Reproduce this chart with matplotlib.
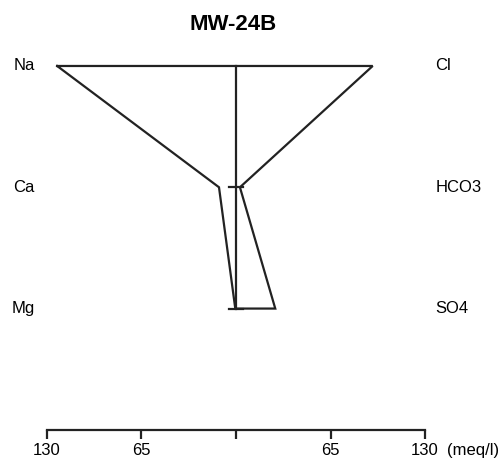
import numpy as np
import matplotlib
matplotlib.use("Agg")
import matplotlib.pyplot as plt

plt.rcParams['font.family'] = ['Liberation Sans', 'DejaVu Sans']

title = "MW-24B"
cations = ["Na", "Ca", "Mg"]
anions = ["Cl", "HCO3", "SO4"]
cation_vals = [123, 11.7, 0.5]   # meq/l
anion_vals = [94, 2.7, 27]       # meq/l
ticks = [-130, -65, 0, 65, 130]
tick_labels = ["130", "65", "", "65", "130"]

fig = plt.figure(figsize=(5.04, 4.62), dpi=100)
ax = fig.add_axes([0, 0, 1, 1])
ax.set_xlim(-162.3, 184.3)
ax.set_ylim(3.265, -0.544)

rows = np.arange(len(cations))
col = "#222222"

# stiff polygon
xs = [-v for v in cation_vals] + anion_vals[::-1]
ys = list(rows) + list(rows[::-1])
xs.append(xs[0])
ys.append(ys[0])
ax.plot(xs, ys, color=col, lw=1.6, solid_joinstyle="miter")

# center line + row ticks
ax.plot([0, 0], [rows[0], rows[-1]], color=col, lw=1.6)
for r in rows[1:]:
    ax.plot([-4.5, 4.5], [r, r], color=col, lw=1.6)

for r, c, a in zip(rows, cations, anions):
    ax.text(-138.3, r, c, ha="right", va="center", fontsize=12)
    ax.text(137, r, a, ha="left", va="center", fontsize=12)

ax.text(-2, -0.34, title, fontsize=16, fontweight="bold", ha="center", va="center")

for s in ["top", "left", "right"]:
    ax.spines[s].set_visible(False)
ax.spines["bottom"].set_position(("data", 3))
ax.spines["bottom"].set_bounds(-130, 130)
ax.spines["bottom"].set_linewidth(1.6)
ax.spines["bottom"].set_color(col)
ax.set_xticks(ticks)
ax.set_xticklabels(tick_labels, fontsize=12)
ax.tick_params(axis="x", direction="out", length=6.5, width=1.6, color=col, pad=3)
ax.set_yticks([])
ax.annotate("(meq/l)", xy=(130, 3), xytext=(16, -9.5), textcoords="offset points",
            fontsize=12, ha="left", va="top")

fig.savefig("out.png", dpi=100)
